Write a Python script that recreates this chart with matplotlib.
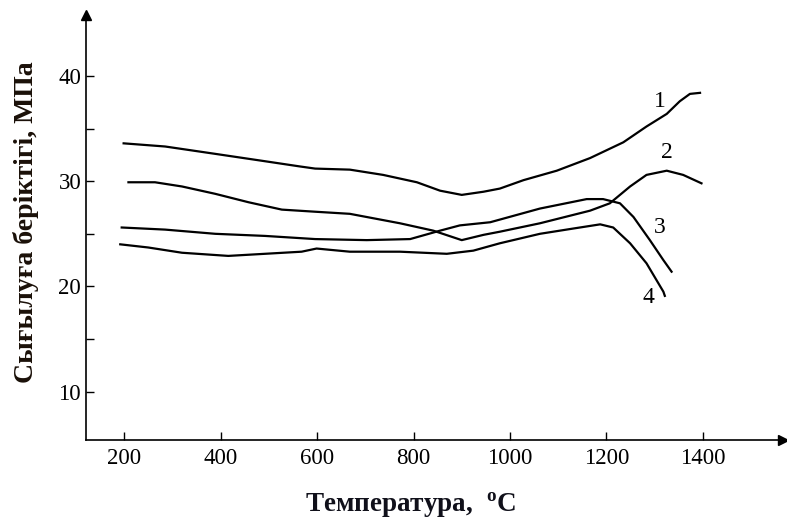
import numpy as np
import matplotlib
matplotlib.use('Agg')
import matplotlib.pyplot as plt

# Curve data (temperature, strength)
t1 = [199, 285, 389, 492, 565, 596, 668, 737, 807, 855, 900, 945, 979, 1028, 1097, 1166, 1235, 1283, 1325, 1352, 1373, 1394]
s1 = [33.6, 33.3, 32.6, 31.9, 31.4, 31.2, 31.1, 30.6, 29.9, 29.1, 28.7, 29.0, 29.3, 30.1, 31.0, 32.2, 33.7, 35.2, 36.4, 37.6, 38.3, 38.4]

t2 = [209, 264, 320, 389, 458, 527, 596, 668, 772, 841, 900, 945, 979, 1062, 1166, 1207, 1249, 1283, 1325, 1359, 1397]
s2 = [29.9, 29.9, 29.5, 28.8, 28.0, 27.3, 27.1, 26.9, 26.0, 25.3, 24.4, 24.9, 25.2, 26.0, 27.2, 27.9, 29.5, 30.6, 31.0, 30.6, 29.8]

t3 = [195, 285, 389, 492, 596, 703, 793, 855, 896, 959, 1062, 1159, 1193, 1228, 1256, 1290, 1318, 1335]
s3 = [25.6, 25.4, 25.0, 24.8, 24.5, 24.4, 24.5, 25.3, 25.8, 26.1, 27.4, 28.3, 28.3, 27.9, 26.6, 24.4, 22.5, 21.4]

t4 = [192, 250, 320, 416, 492, 568, 599, 668, 772, 869, 924, 979, 1062, 1131, 1187, 1214, 1249, 1283, 1318, 1321]
s4 = [24.0, 23.7, 23.2, 22.9, 23.1, 23.3, 23.6, 23.3, 23.3, 23.1, 23.4, 24.1, 25.0, 25.5, 25.9, 25.6, 24.1, 22.2, 19.5, 19.1]

curve_labels = ['1', '2', '3', '4']
label_t = [1311, 1325, 1311, 1288]
label_s = [37.6, 32.7, 25.6, 18.9]

xticks = [200, 400, 600, 800, 1000, 1200, 1400]
yticks = [10, 20, 30, 40]
yminor = [15, 25, 35]

plt.rcParams['font.family'] = ['Liberation Serif', 'DejaVu Serif']

fig = plt.figure(figsize=(7.87, 5.2), dpi=100)
ax = fig.add_axes([86 / 787, 1 - 440 / 520, (783 - 86) / 787, (440 - 15) / 520])

for t, s in zip([t1, t2, t3, t4], [s1, s2, s3, s4]):
  ax.plot(t, s, color='black', linewidth=1.6, solid_joinstyle='round')

for lab, t, s in zip(curve_labels, label_t, label_s):
  ax.text(t, s, lab, fontsize=17, ha='center', va='center')

ax.set_xlim(121, 1566)
ax.set_ylim(5.4, 45.8)
ax.spines['top'].set_visible(False)
ax.spines['right'].set_visible(False)
ax.spines['left'].set_linewidth(1.2)
ax.spines['bottom'].set_linewidth(1.2)

# arrow heads at axis ends
ax.plot(1, 0, '>', color='black', markersize=7, transform=ax.transAxes, clip_on=False)
ax.plot(0, 1, '^', color='black', markersize=7, transform=ax.transAxes, clip_on=False)

ax.set_xticks(xticks)
ax.set_yticks(yticks)
ax.set_yticks(yminor, minor=True)
ax.tick_params(axis='both', which='both', direction='in', length=6, width=1, labelsize=16.5)
ax.tick_params(axis='x', pad=6)

fig.text(0.522, 0.029, 'Температура,  $^{\\mathregular{o}}$C', fontsize=19.5, fontweight='bold',
         ha='center', va='center', color='#10101a')
fig.text(0.033, 0.573, 'Сығылуға беріктігі, МПа', fontsize=20, fontweight='bold',
         ha='center', va='center', rotation=90, color='#1a1008')

fig.savefig('out.png', dpi=100)
